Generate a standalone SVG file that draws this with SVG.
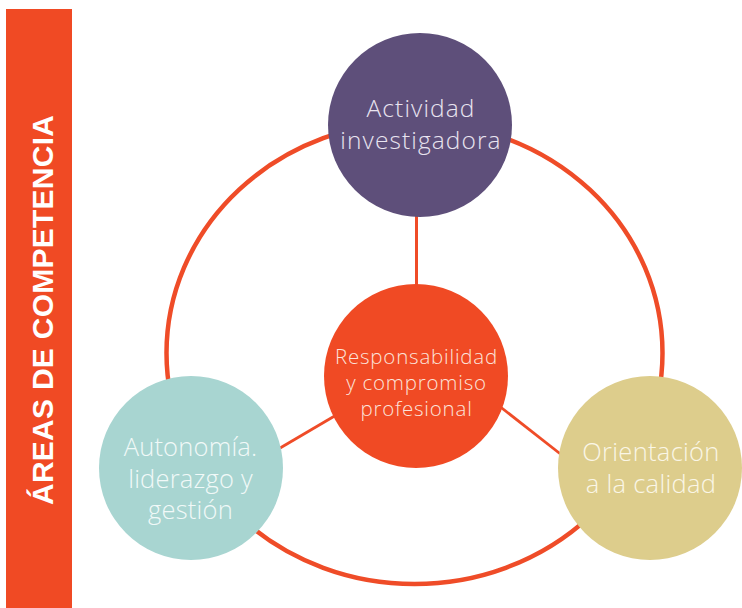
<svg xmlns="http://www.w3.org/2000/svg" width="742" height="608" viewBox="0 0 742 608">
<style>
.lbl{font-family:"Open Sans","Lato","Liberation Sans",sans-serif;font-weight:300;text-anchor:middle;}
.conn{stroke:#EF4C28;fill:none;}
</style>
<rect x="0" y="0" width="742" height="608" fill="#FFFFFF"/>
<g id="sidebar">
<rect x="6" y="9" width="66" height="599" fill="#F04A24"/>
<text transform="translate(53,310) rotate(-90)" font-family="'Liberation Sans',Arial,sans-serif" font-weight="700" font-size="30" fill="#FFFFFF" text-anchor="middle" textLength="390" lengthAdjust="spacing">ÁREAS DE COMPETENCIA</text>
</g>
<g id="connectors">
<ellipse class="conn" cx="414.5" cy="353" rx="248" ry="231" stroke-width="4.5"/>
<line class="conn" x1="416.5" y1="210" x2="416.5" y2="290" stroke-width="3"/>
<line class="conn" x1="275" y1="451" x2="338" y2="414" stroke-width="2.8"/>
<line class="conn" x1="498" y1="405" x2="563" y2="456" stroke-width="2.8"/>
</g>
<g id="node-actividad">
<circle cx="420" cy="125" r="92" fill="#5E4F7A"/>
<text class="lbl" font-size="24.5" letter-spacing="1.1" fill="#E9E4F0"><tspan x="421" y="117">Actividad</tspan><tspan x="421" y="149">investigadora</tspan></text>
</g>
<g id="node-responsabilidad">
<circle cx="416" cy="376" r="92" fill="#F04A24"/>
<text class="lbl" font-size="20.5" letter-spacing="0.8" fill="#FCE3DA"><tspan x="416.5" y="364">Responsabilidad</tspan><tspan x="416.5" y="390">y compromiso</tspan><tspan x="416.5" y="416">profesional</tspan></text>
</g>
<g id="node-autonomia">
<circle cx="191" cy="468" r="92" fill="#A8D5D1"/>
<text class="lbl" font-size="25.5" letter-spacing="0.2" fill="#F1F9F8"><tspan x="190.5" y="456">Autonomía.</tspan><tspan x="190.5" y="488">liderazgo y</tspan><tspan x="190.5" y="519">gestión</tspan></text>
</g>
<g id="node-orientacion">
<circle cx="650" cy="468" r="92" fill="#DDCD8C"/>
<text class="lbl" font-size="25.5" letter-spacing="0.3" fill="#FAF6E6"><tspan x="651" y="461">Orientación</tspan><tspan x="651" y="493">a la calidad</tspan></text>
</g>
</svg>
